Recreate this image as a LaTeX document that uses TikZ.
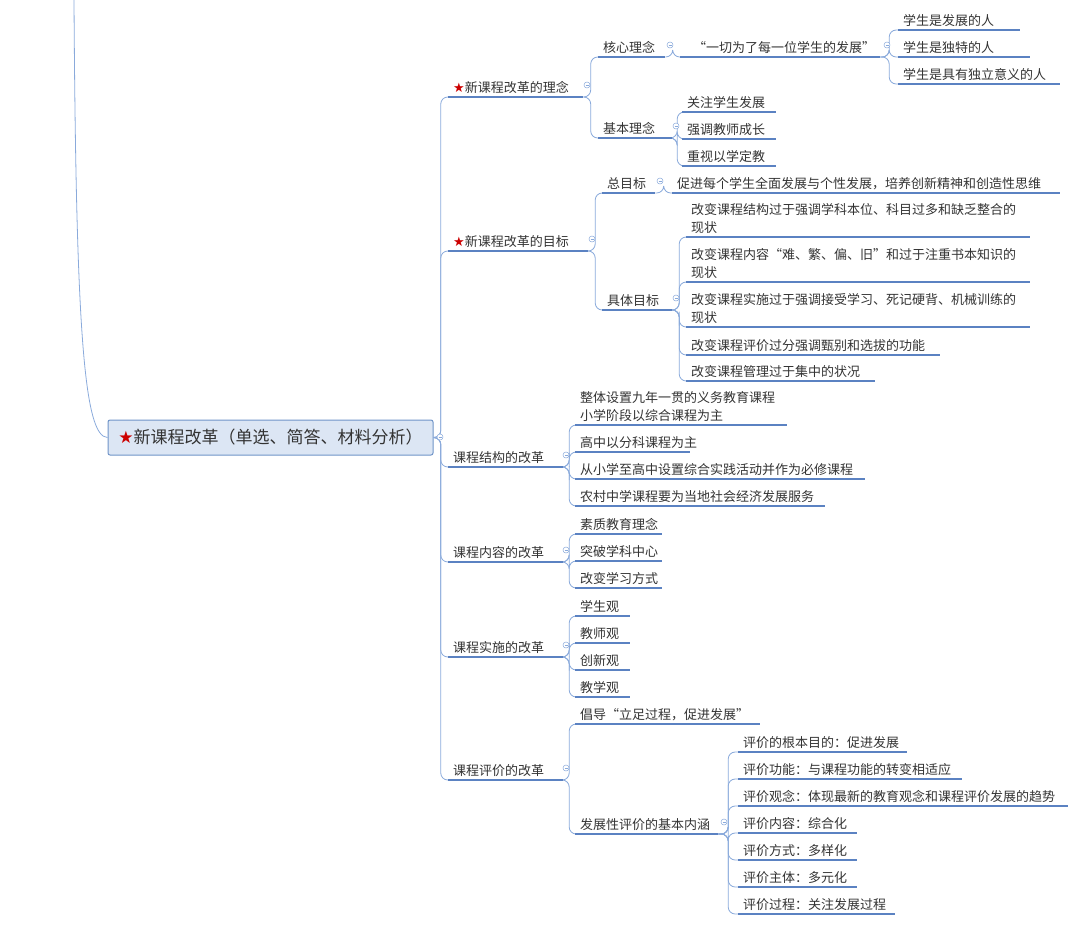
\documentclass[tikz,border=0pt]{standalone}
\usetikzlibrary{calc}
\usepackage{fontspec}
\setmainfont{Noto Sans CJK SC}
\newfontfamily\symf{DejaVu Sans}
\definecolor{conncol}{HTML}{8AAADB}
\definecolor{ulcol}{HTML}{5B82C2}
\definecolor{rootfill}{HTML}{DCE6F4}
\definecolor{rootdraw}{HTML}{6F94C8}
\definecolor{txt}{HTML}{333333}
\newcommand\rstar{{\symf\color{red!80!black}★}}
\tikzset{
  lf/.style={anchor=south west, inner xsep=5pt, inner ysep=3pt, align=left, text width=#1, font=\fontsize{13}{18}\selectfont, text=txt},
  conn/.style={draw=conncol, line width=0.8pt},
  uline/.style={draw=ulcol, line width=1.5pt},
  tog/.style={circle, draw=conncol, fill=white, inner sep=0pt, minimum size=6pt, line width=0.5pt},
  rootbox/.style={draw=rootdraw, fill=rootfill, rounded corners=2pt, line width=1pt, minimum width=325pt, minimum height=35pt, font=\fontsize{17}{20}\selectfont, text=txt}
}
\begin{document}
\begin{tikzpicture}[x=1pt,y=-1pt]
\useasboundingbox (0,0) rectangle (1080,926);
\node[rootbox] (root) at (270.5,437.5) {\rstar 新课程改革（单选、简答、材料分析）};
\coordinate (top) at (74,0);
\draw[conn] (top) .. controls (76,330) and (84,437) .. (root.west);
% level 1
\node[lf=125] (a1) at (448,97) {\rstar 新课程改革的理念};
\node[lf=130] (a2) at (448,251) {\rstar 新课程改革的目标};
\node[lf=105] (a3) at (448,467) {课程结构的改革};
\node[lf=105] (a4) at (448,562) {课程内容的改革};
\node[lf=105] (a5) at (448,657) {课程实施的改革};
\node[lf=105] (a6) at (448,780) {课程评价的改革};
% level 2
\node[lf=57] (b1) at (598,57) {核心理念};
\node[lf=64] (b2) at (598,138) {基本理念};
\node[lf=43] (b3) at (602,193) {总目标};
\node[lf=60] (b4) at (602,310) {具体目标};
\node[lf=190] (c1) at (680,57) {\hspace{8pt}“一切为了每一位学生的发展”};
\node[lf=112] (d1) at (898,30) {学生是发展的人};
\node[lf=122] (d2) at (898,57) {学生是独特的人};
\node[lf=152] (d3) at (898,84) {学生是具有独立意义的人};
\node[lf=84] (e1) at (682,112) {关注学生发展};
\node[lf=84] (e2) at (682,139) {强调教师成长};
\node[lf=84] (e3) at (682,166) {重视以学定教};
\node[lf=378] (f1) at (672,193) {促进每个学生全面发展与个性发展，培养创新精神和创造性思维};
\node[lf=334] (g1) at (686,237) {改变课程结构过于强调学科本位、科目过多和缺乏整合的\\现状};
\node[lf=334] (g2) at (686,282) {改变课程内容“难、繁、偏、旧”和过于注重书本知识的\\现状};
\node[lf=334] (g3) at (686,327) {改变课程实施过于强调接受学习、死记硬背、机械训练的\\现状};
\node[lf=244] (g4) at (686,355) {改变课程评价过分强调甄别和选拔的功能};
\node[lf=179] (g5) at (686,381) {改变课程管理过于集中的状况};
\node[lf=202] (h1) at (575,425) {整体设置九年一贯的义务教育课程\\小学阶段以综合课程为主};
\node[lf=105] (h2) at (575,452) {高中以分科课程为主};
\node[lf=280] (h3) at (575,479) {从小学至高中设置综合实践活动并作为必修课程};
\node[lf=240] (h4) at (575,506) {农村中学课程要为当地社会经济发展服务};
\node[lf=77] (i1) at (575,534) {素质教育理念};
\node[lf=77] (i2) at (575,561) {突破学科中心};
\node[lf=77] (i3) at (575,588) {改变学习方式};
\node[lf=45] (j1) at (575,616) {学生观};
\node[lf=45] (j2) at (575,643) {教师观};
\node[lf=45] (j3) at (575,670) {创新观};
\node[lf=45] (j4) at (575,697) {教学观};
\node[lf=175] (k1) at (575,724) {倡导“立足过程，促进发展”};
\node[lf=133] (k2) at (575,834) {发展性评价的基本内涵};
\node[lf=159] (m1) at (738,752) {评价的根本目的：促进发展};
\node[lf=214] (m2) at (738,779) {评价功能：与课程功能的转变相适应};
\node[lf=320] (m3) at (738,806) {评价观念：体现最新的教育观念和课程评价发展的趋势};
\node[lf=109] (m4) at (738,833) {评价内容：综合化};
\node[lf=109] (m5) at (738,860) {评价方式：多样化};
\node[lf=109] (m6) at (738,887) {评价主体：多元化};
\node[lf=147] (m7) at (738,914) {评价过程：关注发展过程};
% connectors
\foreach \c in {a1,a2,a3,a4,a5,a6}
  \draw[conn,rounded corners=7] (root.east) -| ($(root.east)!0.5!(\c.south west)$) |- (\c.south west);
\foreach \p/\c in {a1/b1,a1/b2,a2/b3,a2/b4,b1/c1,c1/d1,c1/d2,c1/d3,b2/e1,b2/e2,b2/e3,b3/f1,
  b4/g1,b4/g2,b4/g3,b4/g4,b4/g5,a3/h1,a3/h2,a3/h3,a3/h4,a4/i1,a4/i2,a4/i3,
  a5/j1,a5/j2,a5/j3,a5/j4,a6/k1,a6/k2,k2/m1,k2/m2,k2/m3,k2/m4,k2/m5,k2/m6,k2/m7}
  \draw[conn,rounded corners=7] (\p.south east) -| ($(\p.south east)!0.5!(\c.south west)$) |- (\c.south west);
% underlines
\foreach \n in {a1,a2,a3,a4,a5,a6,b1,b2,b3,b4,c1,d1,d2,d3,e1,e2,e3,f1,g1,g2,g3,g4,g5,h1,h2,h3,h4,i1,i2,i3,j1,j2,j3,j4,k1,k2,m1,m2,m3,m4,m5,m6,m7}
  \draw[uline] (\n.south west) -- (\n.south east);
% toggles
\node[tog] (t0) at (440,437) {};
\node[tog] (t1) at (587,85) {};
\node[tog] (t2) at (592,239) {};
\node[tog] (t3) at (566,455) {};
\node[tog] (t4) at (566,550) {};
\node[tog] (t5) at (566,645) {};
\node[tog] (t6) at (566,768) {};
\node[tog] (t7) at (670,45) {};
\node[tog] (t8) at (676,126) {};
\node[tog] (t9) at (660,181) {};
\node[tog] (t10) at (676,298) {};
\node[tog] (t11) at (887,45) {};
\node[tog] (t12) at (724,822) {};
\foreach \t in {t0,t1,t2,t3,t4,t5,t6,t7,t8,t9,t10,t11,t12}
  \draw[conncol,line width=0.5pt] ([xshift=-1.5pt]\t.center) -- ([xshift=1.5pt]\t.center);
\end{tikzpicture}
\end{document}
